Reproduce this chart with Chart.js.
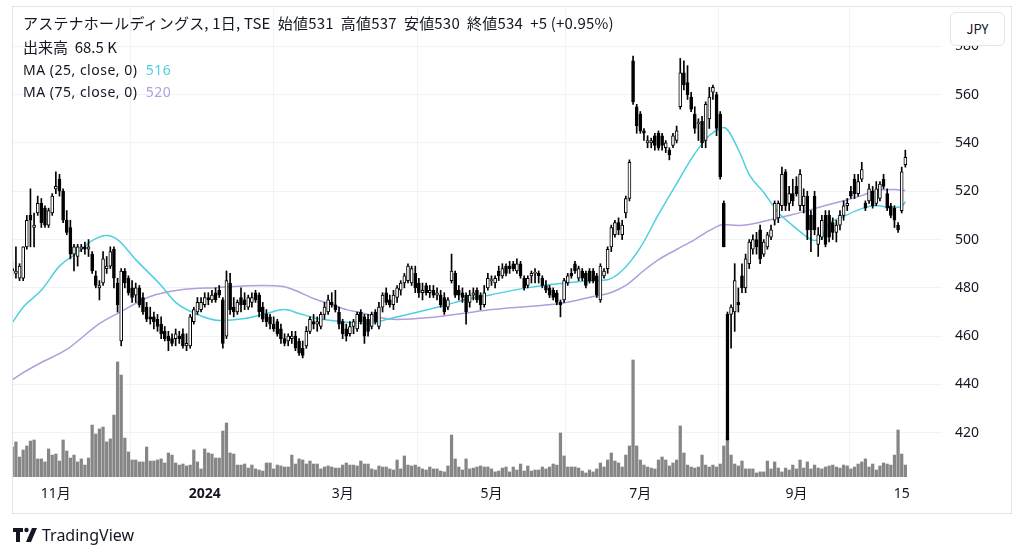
<!DOCTYPE html>
<html><head><meta charset="utf-8">
<script src="https://cdn.jsdelivr.net/npm/chart.js@4.4.1/dist/chart.umd.min.js"></script>
<style>
html,body{margin:0;padding:0;background:#fff;}
#wrap{position:relative;width:1024px;height:557px;overflow:hidden;font-family:"Noto Sans CJK JP","Noto Sans",sans-serif;color:#131722;}
#c{position:absolute;left:0;top:0;}
.frame{position:absolute;left:12px;top:6px;width:1000px;height:508px;border:1px solid #e0e3eb;box-sizing:border-box;pointer-events:none;}
.lg{position:absolute;left:23px;white-space:pre;line-height:18px;}
.jpy{position:absolute;left:950px;top:12px;width:55px;height:34px;box-sizing:border-box;border:1px solid #e0e3eb;border-radius:6px;background:#fff;font-size:13px;text-align:center;line-height:32px;}
.tv{position:absolute;left:42px;top:524px;font-size:16px;line-height:22px;font-family:"Noto Sans","Open Sans",sans-serif;color:#131722;}
</style></head>
<body><div id="wrap">
<canvas id="c" width="1024" height="557"></canvas>
<div class="frame"></div>
<div class="lg" style="top:14px;font-size:15px;letter-spacing:0.2px;">アステナホールディングス, 1日, TSE  始値531  高値537  安値530  終値534  +5 (+0.95%)</div>
<div class="lg" style="top:38px;font-size:15px;">出来高  68.5 K</div>
<div class="lg" style="top:61px;font-size:14px;letter-spacing:0.5px;font-family:'Noto Sans',sans-serif;">MA (25, close, 0)  <span style="color:#4dd0e1">516</span></div>
<div class="lg" style="top:83px;font-size:14px;letter-spacing:0.5px;font-family:'Noto Sans',sans-serif;">MA (75, close, 0)  <span style="color:#b39ddb">520</span></div>
<div class="jpy">JPY</div>
<svg style="position:absolute;left:13px;top:527px" width="26" height="18" viewBox="0 0 26 18">
<path d="M0 1h10v4H7v10H3V5H0z" fill="#131722"/><circle cx="13.5" cy="3" r="2.2" fill="#131722"/><path d="M19 1h5l-6 14h-5z" fill="#131722"/>
</svg>
<div class="tv">TradingView</div>
</div>
<script>
const open = [488,486,484,484,497,510,505,511,515,513,506,511,521,525,520,508,505,494,493,496,497,496,494,485,480,482,488,489,496,482,458,487,484,480,477,480,476,472,468,468,467,465,462,460,459,459,460,461,456,456,466,470,471,473,476,475,478,479,475,460,482,472,470,476,475,472,474,478,477,472,469,468,465,466,463,459,458,459,460,458,455,456,462,466,465,464,469,470,474,473,470,466,463,461,464,463,470,468,467,464,470,464,472,478,475,473,476,479,482,483,482,486,482,478,481,478,479,477,477,476,472,483,486,479,478,477,474,477,479,477,473,480,483,482,487,485,489,489,490,487,490,484,481,485,486,486,484,481,480,479,478,474,475,482,486,490,484,487,486,487,487,485,475,485,488,497,502,507,502,511,517,574,555,552,545,540,540,543,544,543,538,537,539,541,555,569,565,559,552,548,549,541,550,561,560,552,515,469,469,470,474,485,480,490,496,500,504,494,497,501,508,509,514,528,515,519,522,514,514,518,510,518,498,501,510,510,507,503,506,510,514,520,525,519,525,515,516,520,515,517,525,519,514,513,506,512,531];
const high = [491,497,490,497,510,521,511,518,517,514,513,519,528,527,521,512,508,498,498,498,499,500,495,487,483,495,493,497,497,484,488,488,485,483,482,481,478,474,472,470,469,468,464,462,461,463,462,463,461,469,472,476,476,478,478,479,480,481,476,487,486,476,475,480,478,477,478,479,478,474,471,469,468,467,465,461,461,462,462,459,458,464,468,469,468,470,474,477,478,479,472,467,465,466,467,470,471,469,469,470,471,474,478,480,477,479,481,483,486,490,489,489,484,482,482,481,481,480,479,478,476,494,487,481,480,478,479,480,480,478,481,486,485,485,489,490,490,491,491,492,491,485,485,487,488,487,485,483,481,480,479,475,484,486,488,491,489,488,487,488,488,486,490,488,497,506,508,509,508,518,533,576,556,553,546,543,542,544,545,544,541,538,544,547,575,574,572,561,555,550,551,557,563,564,561,553,516,470,473,490,480,490,494,500,502,503,506,500,503,506,516,516,530,529,522,525,526,529,521,520,512,520,505,510,512,512,509,508,512,516,517,522,527,527,532,516,523,522,524,524,527,521,515,514,507,530,537];
const low = [485,484,483,483,496,497,497,510,505,505,505,510,519,518,507,502,492,487,489,495,494,493,486,480,475,481,486,488,480,470,456,480,477,474,474,472,469,466,465,463,462,459,458,454,456,456,457,455,454,455,465,469,470,472,473,474,474,476,455,459,469,468,469,470,471,471,472,474,468,466,464,463,462,460,457,456,456,457,454,452,451,455,461,463,462,463,467,469,472,470,463,459,458,460,461,462,465,457,460,463,465,463,470,473,472,471,474,477,480,482,481,478,476,475,477,476,476,475,472,469,471,482,476,475,474,465,472,475,474,471,472,479,481,480,483,484,485,486,487,486,484,479,480,482,482,482,480,478,476,475,473,468,474,481,484,486,483,483,480,482,482,476,474,484,486,495,501,502,500,509,516,556,544,544,541,538,538,537,537,537,536,533,538,540,554,562,558,553,544,541,538,538,546,558,543,525,497,417,455,462,470,478,478,488,494,494,490,493,496,500,506,507,512,512,512,514,518,512,511,500,495,502,493,500,497,499,500,499,504,508,512,517,517,518,524,512,515,513,514,516,521,512,509,505,503,511,530];
const close = [487,487,489,497,508,508,506,515,507,506,512,518,522,520,508,503,494,497,497,497,496,497,487,481,481,492,489,495,484,473,487,482,478,476,480,473,470,467,467,466,464,461,459,458,457,461,459,456,457,468,471,474,474,476,475,477,475,477,457,483,471,470,474,473,473,476,476,475,470,467,466,465,463,461,459,457,460,460,455,453,452,462,467,465,466,469,472,475,473,471,465,461,460,464,466,469,466,460,462,469,466,472,477,474,473,477,480,482,485,489,488,480,478,479,478,479,477,478,473,470,475,487,477,477,476,470,477,478,475,473,478,484,483,484,485,488,486,488,488,490,485,480,484,486,486,485,481,479,477,476,474,473,483,485,485,487,488,484,481,483,483,477,489,487,496,505,507,504,506,517,532,557,547,545,544,541,541,539,538,539,540,535,543,545,569,564,560,554,546,548,540,556,559,563,546,526,497,417,472,483,473,480,492,499,500,497,492,499,502,504,515,515,527,514,519,516,519,527,518,504,504,504,502,508,498,501,503,506,510,514,515,518,519,524,529,513,521,514,521,523,522,513,510,508,504,528,534];
const volumeK = [171,200,114,154,177,205,211,103,103,86,160,125,131,91,211,148,108,125,86,103,68,108,296,245,274,285,200,217,353,656,581,222,143,97,97,86,86,171,91,91,97,103,80,137,125,80,68,74,63,68,154,86,46,160,137,131,108,108,262,308,137,131,68,68,74,51,68,46,40,34,80,80,46,68,63,57,57,125,74,103,97,74,91,74,74,46,57,63,57,51,51,68,80,68,68,63,91,74,74,46,40,63,57,57,46,40,97,46,120,68,63,68,57,46,40,57,46,46,34,29,63,239,103,57,40,103,46,51,57,63,57,57,46,29,34,51,57,29,57,40,74,34,63,34,40,40,57,46,57,74,68,251,120,57,57,57,51,34,23,40,29,46,80,57,97,137,91,80,57,125,177,667,177,97,68,57,51,46,97,114,97,63,80,97,291,137,68,57,51,57,125,68,57,68,57,74,177,228,125,74,63,91,46,46,46,23,29,29,91,46,86,51,29,51,40,68,46,97,51,86,46,68,51,46,57,63,68,57,51,68,63,46,57,74,86,103,57,74,40,63,80,74,68,125,268,131,68];

const ma25Idx = [0,3,8,13,18,22,26,29,34,41,45,51,57,64,70,75,79,84,91,98,103,110,119,125,132,142,151,160,164,168,173,178,183,188,192,195,196,200,203,207,211,215,218,221,223,224,229,234,238,242,245,246];
const ma25Val = [465.6,472,479,489,494.6,499.6,501.7,500,491.7,481,474,469,466.5,467.3,469.4,471,469.4,467.3,466,465.2,466.9,469.4,472.7,475.2,477.2,480.1,481.8,483,483.4,487.2,496.7,510.4,523.2,535.6,543.1,546,546.4,537.3,526.9,519.5,511.2,505.8,502.1,499.6,500.4,504.6,509.5,512.8,514.1,513.3,513.7,515.7];
const ma75Idx = [0,3,8,15,24,30,38,47,56,69,75,78,83,88,92,97,101,106,115,124,132,142,151,160,165,169,174,178,183,188,192,196,200,203,208,215,220,224,229,234,238,243,246];
const ma75Val = [442,444.9,449.1,454.5,465.2,470.2,476.4,479.3,480.1,481,480.5,478.9,475.6,473.1,471,469.4,467.7,466.9,467.7,469.4,471,472.3,473.5,476.4,478.1,481,487.2,491.7,495.9,500,503.7,506.2,505.8,506.2,507.9,510.4,512.4,514.1,516.1,518.2,520.3,520.7,520.3];

const priceTicks = [420,440,460,480,500,520,540,560,580];
const timeTickIdx = [12,53,91,132,173,216,245];
const timeTickLabels = ['11月','2024','3月','5月','7月','9月','15'];

const idx = open.map((_, i) => i);
const bodies = idx.map(i => ({x: i, y: [open[i], close[i]]}));
const wicks = idx.map(i => ({x: i, y: [low[i], high[i]]}));
const vols = idx.map(i => ({x: i, y: volumeK[i]}));
const bodyFill = idx.map(i => close[i] >= open[i] ? '#ffffff' : '#000000');
const ma25 = ma25Idx.map((x, k) => ({x, y: ma25Val[k]}));
const ma75 = ma75Idx.map((x, k) => ({x, y: ma75Val[k]}));

const AX_FAMILY = '"Noto Sans", "Noto Sans CJK JP", sans-serif';
const noPad = s => { s.paddingTop = 0; s.paddingBottom = 0; s.paddingLeft = 0; s.paddingRight = 0; };

new Chart(document.getElementById('c'), {
  type: 'bar',
  data: {
    datasets: [
      {type: 'bar', data: bodies, yAxisID: 'y', backgroundColor: bodyFill, borderColor: '#000000', borderWidth: 1, borderSkipped: false, barThickness: 3, minBarLength: 1, grouped: false, order: 1},
      {type: 'bar', data: wicks, yAxisID: 'y', backgroundColor: '#000000', barThickness: 1, grouped: false, order: 2},
      {type: 'line', data: ma25, yAxisID: 'y', borderColor: '#4dd0e1', borderWidth: 1.5, pointRadius: 0, cubicInterpolationMode: 'monotone', order: 3},
      {type: 'line', data: ma75, yAxisID: 'y', borderColor: '#b39ddb', borderWidth: 1.5, pointRadius: 0, cubicInterpolationMode: 'monotone', order: 4},
      {type: 'bar', data: vols, yAxisID: 'yv', backgroundColor: '#868686', barThickness: 2.6, grouped: false, order: 5}
    ]
  },
  options: {
    responsive: false,
    animation: false,
    devicePixelRatio: 1,
    layout: {padding: {left: 12, top: 6, right: 0, bottom: 44}},
    plugins: {legend: {display: false}, tooltip: {enabled: false}},
    scales: {
      x: {
        type: 'linear', min: -0.08, max: 256.1, offset: false,
        afterBuildTicks: s => { s.ticks = timeTickIdx.map(v => ({value: v})); },
        afterFit: s => { s.height = 36; noPad(s); },
        grid: {color: '#f0f3fa', drawTicks: false},
        border: {display: false},
        ticks: {
          autoSkip: false, maxRotation: 0, padding: 9, color: '#131722',
          font: ctx => (ctx.tick && ctx.tick.value === 53) ? {family: AX_FAMILY, size: 14, weight: 'bold'} : {family: AX_FAMILY, size: 14},
          callback: v => { const k = timeTickIdx.indexOf(v); return k >= 0 ? timeTickLabels[k] : ''; }
        }
      },
      y: {
        type: 'linear', position: 'right', min: 401.7, max: 596.7,
        afterBuildTicks: s => { s.ticks = priceTicks.map(v => ({value: v})); },
        afterFit: s => { s.width = 82; noPad(s); },
        grid: {color: '#f0f3fa', drawTicks: false},
        border: {display: false},
        ticks: {padding: 13, color: '#131722', font: {family: AX_FAMILY, size: 14}}
      },
      yv: {type: 'linear', display: false, min: 0, max: 2685}
    }
  }
});
</script>
</body></html>
